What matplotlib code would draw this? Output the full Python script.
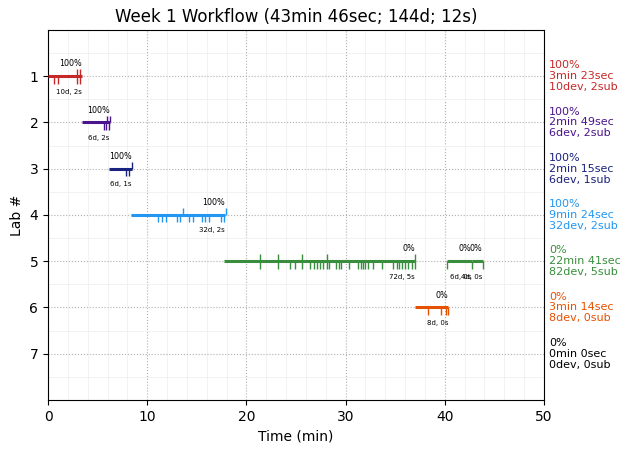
import matplotlib
matplotlib.use("Agg")
import matplotlib.pyplot as plt
from matplotlib.ticker import MultipleLocator

title = "Week 1 Workflow (43min 46sec; 144d; 12s)"
labs = [1, 2, 3, 4, 5, 6, 7]
lab_colors = ["#c62828", "#4a148c", "#1a237e", "#2196f3", "#388e3c", "#e65100", "#000000"]
lab_pct = ["100%", "100%", "100%", "100%", "0%", "0%", "0%"]
lab_time = ["3min 23sec", "2min 49sec", "2min 15sec", "9min 24sec", "22min 41sec", "3min 14sec", "0min 0sec"]
lab_dev = [10, 6, 6, 32, 82, 8, 0]
lab_sub = [2, 2, 1, 2, 5, 0, 0]

# sessions (segments)
seg_lab = [1, 2, 3, 4, 5, 6, 5, 5]
seg_start = [0.0, 3.38, 6.15, 8.4, 17.75, 36.95, 40.25, 42.7]
seg_end = [3.38, 6.2, 8.45, 17.85, 37.0, 40.35, 42.7, 43.8]
seg_pct = ["100%", "100%", "100%", "100%", "0%", "0%", "0%", "0%"]
seg_dev = [10, 6, 6, 32, 72, 8, 6, 4]
seg_sub = [2, 2, 1, 2, 5, 0, 0, 0]

# event times (min)
dev_times = {
    1: [0.65, 1.0, 2.9, 3.25],
    2: [5.6, 5.85, 6.1],
    3: [7.86, 8.2],
    4: [11.1, 11.5, 11.9, 13.0, 13.3, 14.25, 14.65, 15.5, 15.8, 16.2, 17.4, 17.75],
    5: [21.4, 23.2, 24.4, 24.9, 25.6, 26.4, 26.8, 27.15, 27.45, 27.75, 28.1, 28.3,
        29.0, 29.3, 29.5, 30.3, 31.2, 31.55, 31.8, 32.0, 32.3, 32.8, 33.7, 34.8,
        35.15, 35.4, 35.65, 36.0, 36.3, 36.7, 37.0, 40.25, 42.7, 43.8],
    6: [38.3, 39.6, 40.1, 40.35],
}
sub_times = {
    1: [2.9, 3.25],
    2: [5.9, 6.2],
    3: [8.5],
    4: [13.6, 17.9],
    5: [21.4, 23.2, 25.6, 28.1, 37.0],
}

fig = plt.figure(figsize=(6.3, 4.53), dpi=100)
ax = fig.add_axes([0.0762, 0.117, 0.7873, 0.8168])

for lab, s, e, pct, nd, ns in zip(seg_lab, seg_start, seg_end, seg_pct, seg_dev, seg_sub):
    c = lab_colors[lab - 1]
    ax.plot([s, e], [lab, lab], color=c, lw=2.2, solid_capstyle="butt", zorder=3)
    ax.text(e, lab - 0.17, pct, ha="right", va="bottom", fontsize=5.8, zorder=4)
    ax.text(e, lab + 0.27, f"{nd}d, {ns}s", ha="right", va="top", fontsize=5, zorder=4)

for lab, ts in dev_times.items():
    c = lab_colors[lab - 1]
    ax.vlines(ts, lab, lab + 0.16, color=c, lw=1, zorder=3)
for lab, ts in sub_times.items():
    c = lab_colors[lab - 1]
    ax.vlines(ts, lab - 0.15, lab, color=c, lw=1, zorder=3)

for lab, c, p, t, nd, ns in zip(labs, lab_colors, lab_pct, lab_time, lab_dev, lab_sub):
    ax.text(50.5, lab, f"{p}\n{t}\n{nd}dev, {ns}sub", color=c, fontsize=8,
            ha="left", va="center", linespacing=1.12, clip_on=False)

ax.set_xlim(0, 50)
ax.set_ylim(8, 0)
ax.set_yticks(labs)
ax.xaxis.set_major_locator(MultipleLocator(10))
ax.xaxis.set_minor_locator(MultipleLocator(2))
ax.yaxis.set_minor_locator(MultipleLocator(0.5))
ax.tick_params(which="minor", length=0)
ax.grid(which="major", linestyle=":", color="#b0b0b0", lw=0.8)
ax.grid(which="minor", linestyle="-", color="#f0f0f0", lw=0.6)
ax.set_axisbelow(True)
ax.set_xlabel("Time (min)")
ax.set_ylabel("Lab #")
ax.set_title(title)

fig.savefig("out.png", dpi=100)
